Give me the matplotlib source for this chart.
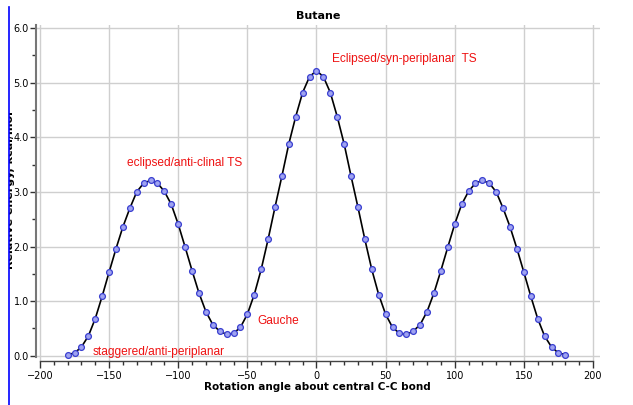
import matplotlib
matplotlib.use("Agg")
import matplotlib.pyplot as plt
from matplotlib.lines import Line2D
from matplotlib.patches import Rectangle
from matplotlib.ticker import MultipleLocator, FormatStrFormatter

angles = list(range(-180, 181, 5))
energy = [0.02, 0.05, 0.16, 0.36, 0.68, 1.09, 1.53, 1.96, 2.36, 2.70,
          3.00, 3.16, 3.21, 3.16, 3.01, 2.77, 2.41, 1.99, 1.56, 1.15,
          0.81, 0.57, 0.45, 0.39, 0.41, 0.52, 0.76, 1.12, 1.58, 2.13,
          2.72, 3.29, 3.88, 4.38, 4.82, 5.11, 5.22, 5.11, 4.82, 4.38,
          3.88, 3.29, 2.72, 2.13, 1.58, 1.12, 0.76, 0.52, 0.41, 0.39,
          0.45, 0.57, 0.81, 1.15, 1.56, 1.99, 2.41, 2.77, 3.01, 3.16,
          3.21, 3.16, 3.00, 2.70, 2.36, 1.96, 1.53, 1.09, 0.68, 0.36,
          0.16, 0.05, 0.02]

labels = ["Eclipsed/syn-periplanar  TS", "eclipsed/anti-clinal TS",
          "Gauche", "staggered/anti-periplanar"]
label_x = [11, -137, -42.5, -162]
label_y = [5.43, 3.53, 0.64, 0.07]

title = "Butane"
xlabel = "Rotation angle about central C-C bond"
ylabel = "Relative energy, kcal/mol"

narrow = ["Liberation Sans Narrow", "DejaVu Sans Condensed", "Liberation Sans", "DejaVu Sans"]

fig = plt.figure(figsize=(6.33, 4.05), dpi=100)
W, H = 633, 405
x0, x1 = 35.8, 599.9
ytop, ybot = 24.8, 361.2
ax = fig.add_axes([x0 / W, 1 - ybot / H, (x1 - x0) / W, (ybot - ytop) / H])

ax.plot(angles, energy, color="black", lw=1.2, zorder=3)
ax.plot(angles, energy, linestyle="none", marker="o", ms=4.2,
        mfc="#9fa3f0", mec="#3a3fd0", mew=0.9, zorder=4)

ax.set_xlim(-203, 205)
ax.set_ylim(-0.1, 6.06)

ax.xaxis.set_major_locator(MultipleLocator(50))
ax.xaxis.set_minor_locator(MultipleLocator(10))
ax.yaxis.set_major_locator(MultipleLocator(1.0))
ax.yaxis.set_minor_locator(MultipleLocator(0.5))
ax.yaxis.set_major_formatter(FormatStrFormatter("%.1f"))

ax.grid(True, which="major", color="#cfcfcf", lw=1.0)
ax.set_axisbelow(True)

for s in ["top", "right"]:
    ax.spines[s].set_visible(False)
ax.spines["left"].set_color("#777777")
ax.spines["left"].set_linewidth(1.5)
ax.spines["left"].set_bounds(-0.02, 6.06)
ax.spines["bottom"].set_color("#444444")
ax.spines["bottom"].set_linewidth(1.0)
ax.spines["bottom"].set_bounds(-200, 200)

ax.tick_params(axis="x", which="major", direction="out", length=5, width=1,
               color="#333333", labelsize=7, pad=2)
ax.tick_params(axis="x", which="minor", direction="out", length=3, width=1,
               color="#333333")
ax.tick_params(axis="y", which="major", direction="out", length=4, width=1,
               color="#333333", labelsize=7, pad=1)
ax.tick_params(axis="y", which="minor", direction="out", length=3, width=1,
               color="#333333")

ax.set_title(title, fontsize=8, fontweight="bold", pad=4)
ax.set_xlabel(xlabel, fontsize=7.5, fontweight="bold", labelpad=1)

for t, lx, ly in zip(labels, label_x, label_y):
    ax.text(lx, ly, t, color="#ee1111", fontsize=8.6, family=narrow,
            ha="left", va="center", zorder=5)

fig.text(10 / W, 1 - 190 / H, ylabel, rotation=90, fontsize=8,
         fontweight="bold", ha="center", va="center")
fig.add_artist(Rectangle((0, 0), 8.5 / W, 1, transform=fig.transFigure,
                         facecolor="white", edgecolor="none", zorder=10))
fig.add_artist(Line2D([8.5 / W, 8.5 / W], [0, 1 - 7 / H],
                      transform=fig.transFigure, color="#0000ff", lw=1.2,
                      zorder=11))

fig.savefig("out.png", dpi=100)
